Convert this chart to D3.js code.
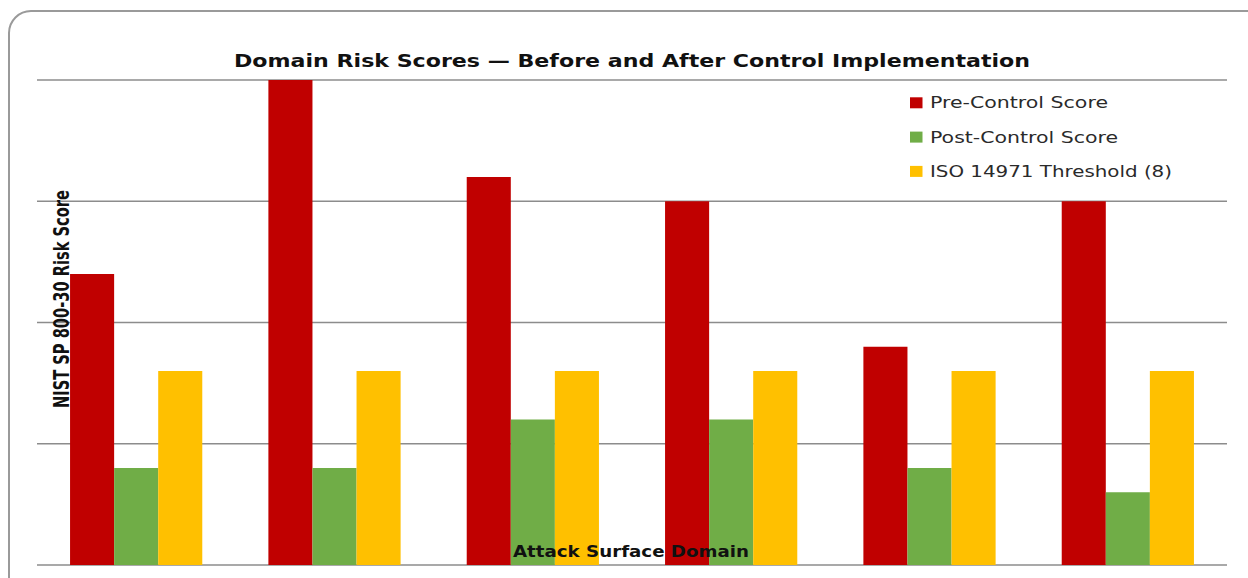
<!DOCTYPE html>
<html><head><meta charset="utf-8">
<script src="https://cdn.jsdelivr.net/npm/d3@7"></script>
<style>html,body{margin:0;padding:0;background:#fff;overflow:hidden}</style>
</head><body>
<svg id="c" width="1248" height="578"></svg>
<script>
const categories = ["Domain 1","Domain 2","Domain 3","Domain 4","Domain 5","Domain 6"];
const seriesNames = ["Pre-Control Score","Post-Control Score","ISO 14971 Threshold (8)"];
const preControl = [12, 20, 16, 15, 9, 15];
const postControl = [4, 4, 6, 6, 4, 3];
const threshold = [8, 8, 8, 8, 8, 8];
const yTicks = [0, 5, 10, 15, 20];
const colors = ["#C00000", "#70AD47", "#FFC000"];

const svg = d3.select("#c");
const plotLeft = 37, plotRight = 1227, plotTop = 80, plotBottom = 565;

// frame
svg.append("rect").attr("x", 9).attr("y", 11).attr("width", 1260).attr("height", 620)
  .attr("rx", 22).attr("fill", "#fff").attr("stroke", "#9a9a9a").attr("stroke-width", 2);

const x0 = d3.scaleBand().domain(categories).range([plotLeft, plotRight]).paddingInner(1/3).paddingOuter(1/6);
const x1 = d3.scaleBand().domain(seriesNames).range([0, x0.bandwidth()]);
const y = d3.scaleLinear().domain([0, 20]).range([plotBottom, plotTop]);

// gridlines
svg.append("g").selectAll("line").data(yTicks).join("line")
  .attr("x1", plotLeft).attr("x2", plotRight)
  .attr("y1", d => y(d)).attr("y2", d => y(d))
  .attr("stroke", "#8c8c8c").attr("stroke-width", 1.6);

const rows = categories.map((c, i) => ({c, vals: [preControl[i], postControl[i], threshold[i]]}));
const g = svg.append("g");
rows.forEach(r => {
  g.append("g").attr("transform", `translate(${x0(r.c)},0)`)
    .selectAll("rect").data(r.vals).join("rect")
    .attr("x", (d, j) => x1(seriesNames[j]))
    .attr("width", x1.bandwidth())
    .attr("y", d => y(d))
    .attr("height", d => y(0) - y(d))
    .attr("fill", (d, j) => colors[j]);
});

// title
svg.append("text").attr("x", 632).attr("y", 67).attr("text-anchor", "middle")
  .attr("font-family", "DejaVu Sans, Verdana, sans-serif").attr("font-weight", "bold")
  .attr("font-size", 18.5).attr("fill", "#111")
  .attr("textLength", 796).attr("lengthAdjust", "spacingAndGlyphs")
  .text("Domain Risk Scores \u2014 Before and After Control Implementation");

// y label
svg.append("text").attr("transform", "translate(69,299) rotate(-90)").attr("text-anchor", "middle")
  .attr("font-family", "DejaVu Sans Condensed, DejaVu Sans, sans-serif")
  .attr("font-weight", "bold").attr("font-size", 21).attr("fill", "#111")
  .attr("textLength", 218).attr("lengthAdjust", "spacingAndGlyphs")
  .text("NIST SP 800-30 Risk Score");

// x label
svg.append("text").attr("x", 631).attr("y", 557).attr("text-anchor", "middle")
  .attr("font-family", "DejaVu Sans, Verdana, sans-serif").attr("font-weight", "bold")
  .attr("font-size", 16).attr("fill", "#111")
  .attr("textLength", 236).attr("lengthAdjust", "spacingAndGlyphs")
  .text("Attack Surface Domain");

// legend
const legendWidths = [178, 188, 242];
const lg = svg.append("g");
seriesNames.forEach((s, i) => {
  const base = 108.3 + i * 34.3;
  lg.append("rect").attr("x", 910).attr("y", base - 11).attr("width", 12.5).attr("height", 11).attr("fill", colors[i]);
  lg.append("text").attr("x", 930).attr("y", base).attr("font-family", "DejaVu Sans, Verdana, sans-serif")
    .attr("font-size", 16.5).attr("fill", "#2a2a2a")
    .attr("textLength", legendWidths[i]).attr("lengthAdjust", "spacingAndGlyphs").text(s);
});
</script>
</body></html>
